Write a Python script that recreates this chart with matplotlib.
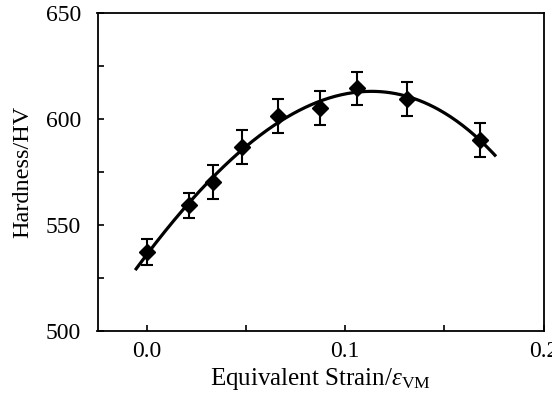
import numpy as np
import matplotlib
matplotlib.use("Agg")
import matplotlib.pyplot as plt
from matplotlib.ticker import MultipleLocator

# Data
strain = [0.0, 0.021, 0.0335, 0.048, 0.066, 0.087, 0.106, 0.131, 0.168]
hardness = [537.2, 559.3, 570.2, 587.0, 601.4, 605.4, 614.4, 609.5, 590.3]
err = [6.0, 6.0, 8.0, 8.0, 8.0, 8.0, 8.0, 8.0, 8.0]
fit_range = [-0.0055, 0.1755]

plt.rcParams['font.family'] = ['Liberation Serif', 'DejaVu Serif']
plt.rcParams['mathtext.fontset'] = 'custom'
plt.rcParams['mathtext.rm'] = 'Liberation Serif'
plt.rcParams['mathtext.it'] = 'Liberation Serif:italic'

fig = plt.figure(figsize=(5.52, 3.97), dpi=100)
ax = fig.add_axes([97.5/552, 1-331/397, (543.5-97.5)/552, (331-13)/397])

coef = np.polyfit(strain, hardness, 3)
xf = np.linspace(fit_range[0], fit_range[1], 300)
ax.plot(xf, np.polyval(coef, xf), color='black', lw=2.3, zorder=2)

ax.errorbar(strain, hardness, yerr=err, fmt='D', color='black', ms=8.5,
            ecolor='black', elinewidth=1.5, capsize=4, capthick=1.5, zorder=3)

ax.set_xlim(-0.025, 0.2)
ax.set_ylim(500, 650)
ax.xaxis.set_major_locator(MultipleLocator(0.1))
ax.xaxis.set_minor_locator(MultipleLocator(0.05))
ax.yaxis.set_major_locator(MultipleLocator(50))
ax.yaxis.set_minor_locator(MultipleLocator(25))
ax.xaxis.set_major_formatter(matplotlib.ticker.FormatStrFormatter('%.1f'))
ax.tick_params(which='both', direction='in', top=False, right=False,
               width=1.2, labelsize=17)
ax.tick_params(which='major', length=4.5)
ax.tick_params(which='minor', length=4)
ax.tick_params(axis='y', pad=12)
ax.tick_params(axis='x', pad=7)
for s in ax.spines.values():
    s.set_linewidth(1.3)

ax.set_xlabel(r'Equivalent Strain/$\varepsilon_{\rm VM}$', fontsize=18, labelpad=3)
ax.set_ylabel('Hardness/HV', fontsize=17.5, labelpad=9)

fig.savefig('out.png', dpi=100)
